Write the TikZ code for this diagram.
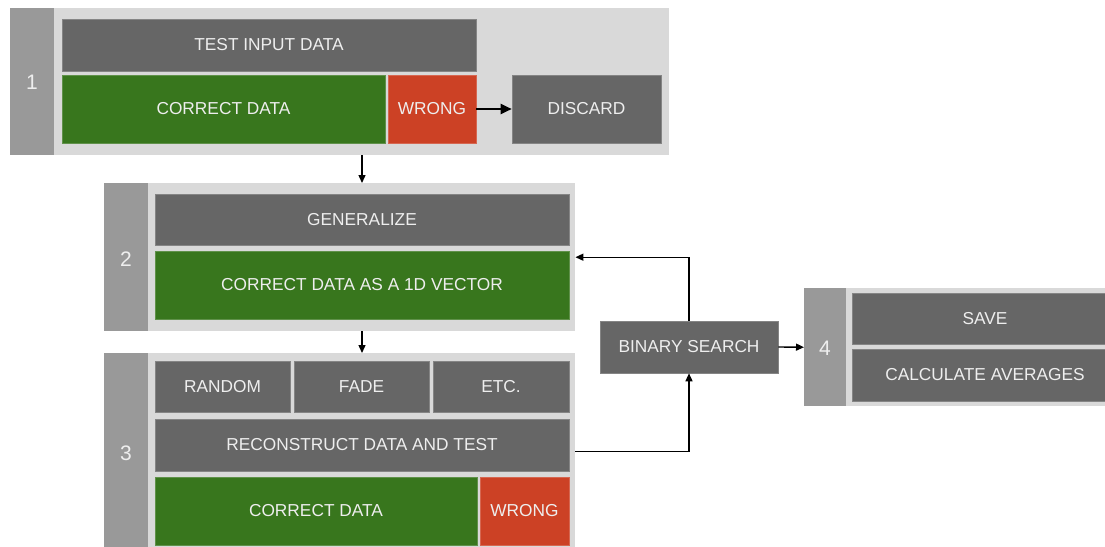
\documentclass[tikz,border=0pt]{standalone}
\usepackage{fontspec}
\setmainfont{Liberation Sans}
\usetikzlibrary{arrows.meta}
\definecolor{panelbg}{HTML}{D9D9D9}
\definecolor{stripbg}{HTML}{999999}
\definecolor{boxgray}{HTML}{666666}
\definecolor{boxgreen}{HTML}{38761D}
\definecolor{boxred}{HTML}{CC4125}
\definecolor{txt}{HTML}{EEEEEE}
\tikzset{
  panel/.style={fill=panelbg, draw=none, inner sep=0pt, anchor=north west},
  strip/.style={fill=stripbg, draw=none, inner sep=0pt, anchor=north west},
  num/.style={text=txt, font=\fontsize{21}{24}\selectfont},
  box/.style={draw=#1!80!white, line width=0.6pt, fill=#1, text=txt, inner sep=0pt,
    font=\fontsize{17.3}{20}\selectfont},
  arr/.style={-{Triangle[length=8pt,width=7pt]}, line width=1.4pt, black},
  bigarr/.style={-{Triangle[length=11pt,width=10pt]}, line width=2.2pt, black},
}
\begin{document}
\begin{tikzpicture}[x=1pt,y=-1pt]
\useasboundingbox (0,0) rectangle (1105,546);
\clip (0,0) rectangle (1105,546);
% panel 1
\node[panel, minimum width=659pt, minimum height=147pt] (p1) at (10,8) {};
\node[strip, minimum width=44pt, minimum height=147pt] (s1) at (10,8) {};
\node[num] (n1) at (32,82) {1};
\node[box=boxgray, minimum width=414pt, minimum height=52pt] (t1) at (269,45) {TEST INPUT DATA};
\node[box=boxgreen, minimum width=323pt, minimum height=68pt] (c1) at (223.5,109) {CORRECT DATA};
\node[box=boxred, minimum width=88pt, minimum height=68pt] (w1) at (432,109) {WRONG};
\node[box=boxgray, minimum width=149pt, minimum height=68pt] (d1) at (586.5,109) {DISCARD};
% panel 2
\node[panel, minimum width=471pt, minimum height=148pt] (p2) at (104,183) {};
\node[strip, minimum width=44pt, minimum height=148pt] (s2) at (104,183) {};
\node[num] (n2) at (126,259) {2};
\node[box=boxgray, minimum width=414pt, minimum height=51pt] (g2) at (362,219.5) {GENERALIZE};
\node[box=boxgreen, minimum width=414pt, minimum height=68pt] (v2) at (362,285) {CORRECT DATA AS A 1D VECTOR};
% panel 3
\node[panel, minimum width=471pt, minimum height=196pt] (p3) at (104,353) {};
\node[strip, minimum width=44pt, minimum height=196pt] (s3) at (104,353) {};
\node[num] (n3) at (126,453) {3};
\node[box=boxgray, minimum width=135pt, minimum height=51pt] (r3) at (222.5,386.5) {RANDOM};
\node[box=boxgray, minimum width=135pt, minimum height=51pt] (f3) at (361.5,386.5) {FADE};
\node[box=boxgray, minimum width=136pt, minimum height=51pt] (e3) at (501,386.5) {ETC.};
\node[box=boxgray, minimum width=414pt, minimum height=52pt] (rc3) at (362,445) {RECONSTRUCT DATA AND TEST};
\node[box=boxgreen, minimum width=322pt, minimum height=68pt] (c3) at (316,511) {CORRECT DATA};
\node[box=boxred, minimum width=89pt, minimum height=68pt] (w3) at (524.5,511) {WRONG};
% binary search
\node[box=boxgray, minimum width=178pt, minimum height=52pt] (bs) at (689,347) {BINARY SEARCH};
% panel 4
\node[panel, minimum width=320pt, minimum height=118pt] (p4) at (804,288) {};
\node[strip, minimum width=42pt, minimum height=118pt] (s4) at (804,288) {};
\node[num] (n4) at (825,348) {4};
\node[box=boxgray, minimum width=266pt, minimum height=51pt] (sv4) at (985,318.5) {SAVE};
\node[box=boxgray, minimum width=266pt, minimum height=52pt] (ca4) at (985,375) {CALCULATE AVERAGES};
% connectors
\draw[bigarr] (w1.east) -- (d1.west);
\draw[arr] (p1.south -| g2.north) -- (p2.north -| g2.north);
\draw[arr] (p2.south -| v2.south) -- (p3.north -| v2.south);
\draw[arr] (p3.east) -| (bs.south);
\draw[arr] (bs.north) |- (p2.east);
\draw[arr] (bs.east) -- (p4.west);
\end{tikzpicture}
\end{document}
